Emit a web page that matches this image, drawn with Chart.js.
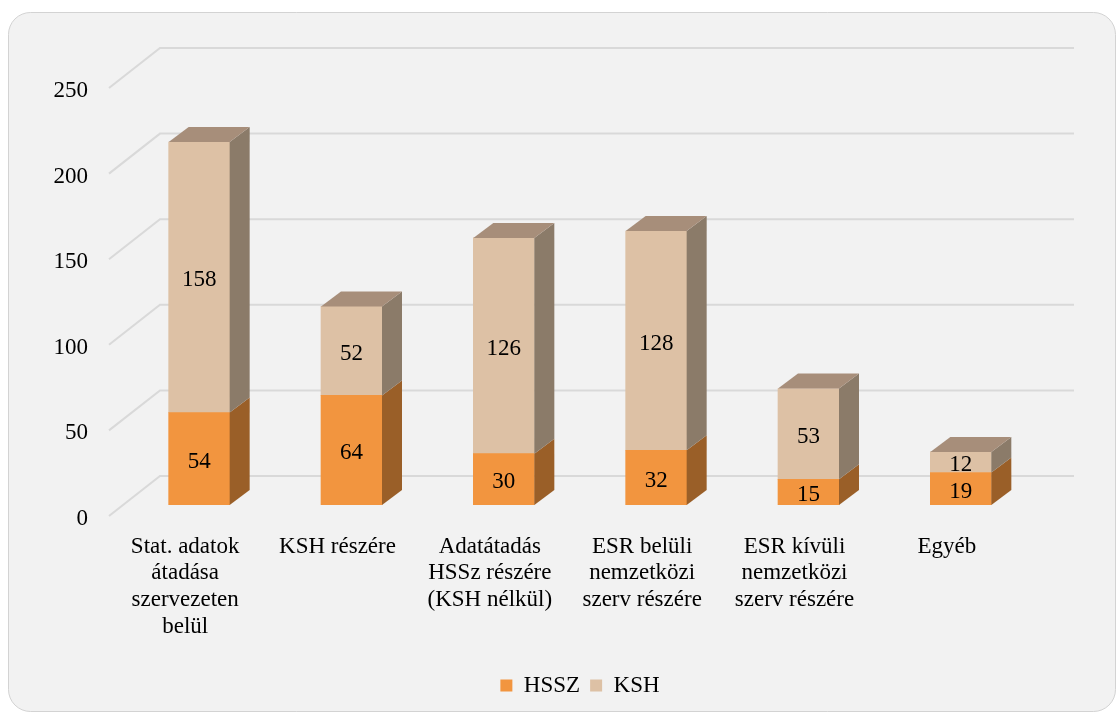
<!DOCTYPE html>
<html lang="hu">
<head>
<meta charset="UTF-8">
<title>Adatátadások</title>
<script src="https://cdn.jsdelivr.net/npm/chart.js"></script>
<style>
  body { margin: 0; background: #fff; }
</style>
</head>
<body>
<canvas id="chart" width="1118" height="713"></canvas>
<script>
const categories = [
  ['Stat. adatok', 'átadása', 'szervezeten', 'belül'],
  'KSH részére',
  ['Adatátadás', 'HSSz részére', '(KSH nélkül)'],
  ['ESR belüli', 'nemzetközi', 'szerv részére'],
  ['ESR kívüli', 'nemzetközi', 'szerv részére'],
  'Egyéb'
];
const hsszValues = [54, 64, 30, 32, 15, 19];
const kshValues = [158, 52, 126, 128, 53, 12];
const yTicks = [0, 50, 100, 150, 200, 250];

const font = { family: '"Liberation Serif", "DejaVu Serif", serif', size: 23, lineHeight: 1.17 };

// 3D depth of bars and of the floor/back wall (pixels)
const DX = 20, DY = 15;
const FRONT_DX = 14, FRONT_DY = 11;
const WALL_DX = 37, WALL_DY = 29;
const sideColors = ['#9A5F28', '#8B7B69'];
const topColors = ['#B8763A', '#A78E7A'];

const card = {
  id: 'card',
  beforeDraw(chart) {
    const c = chart.ctx;
    c.save();
    c.fillStyle = '#fff';
    c.fillRect(0, 0, chart.width, chart.height);
    c.beginPath();
    c.roundRect(8.5, 12.5, 1107, 699, 22);
    c.fillStyle = '#F2F2F2';
    c.fill();
    c.strokeStyle = '#D3D3D3';
    c.lineWidth = 1;
    c.stroke();
    c.restore();
  }
};

const grid3d = {
  id: 'grid3d',
  beforeDatasetsDraw(chart) {
    const { ctx, chartArea: a, scales: { y } } = chart;
    ctx.save();
    ctx.strokeStyle = '#D9D9D9';
    ctx.lineWidth = 2;
    yTicks.forEach(v => {
      const py = y.getPixelForValue(v);
      ctx.beginPath();
      ctx.moveTo(a.left - FRONT_DX, py + FRONT_DY);
      ctx.lineTo(a.left + WALL_DX, py - WALL_DY);
      ctx.lineTo(a.right + WALL_DX, py - WALL_DY);
      ctx.stroke();
    });
    ctx.restore();
  }
};

const bars3d = {
  id: 'bars3d',
  afterDatasetsDraw(chart) {
    const ctx = chart.ctx;
    const n = chart.data.datasets.length;
    ctx.save();
    chart.data.datasets.forEach((ds, di) => {
      chart.getDatasetMeta(di).data.forEach(bar => {
        const { x, y, base, width } = bar.getProps(['x', 'y', 'base', 'width'], true);
        const l = x - width / 2, r = x + width / 2;
        ctx.fillStyle = sideColors[di];
        ctx.beginPath();
        ctx.moveTo(r, y);
        ctx.lineTo(r + DX, y - DY);
        ctx.lineTo(r + DX, base - DY);
        ctx.lineTo(r, base);
        ctx.closePath();
        ctx.fill();
        if (di === n - 1) {
          ctx.fillStyle = topColors[di];
          ctx.beginPath();
          ctx.moveTo(l, y);
          ctx.lineTo(r, y);
          ctx.lineTo(r + DX, y - DY);
          ctx.lineTo(l + DX, y - DY);
          ctx.closePath();
          ctx.fill();
        }
      });
    });
    // value labels
    ctx.fillStyle = '#000';
    ctx.font = `${font.size}px ${font.family}`;
    ctx.textAlign = 'center';
    ctx.textBaseline = 'middle';
    chart.data.datasets.forEach((ds, di) => {
      chart.getDatasetMeta(di).data.forEach((bar, i) => {
        const { x, y, base } = bar.getProps(['x', 'y', 'base'], true);
        ctx.fillText(ds.data[i], x, (y + base) / 2 + 3);
      });
    });
    ctx.restore();
  }
};

new Chart(document.getElementById('chart'), {
  type: 'bar',
  data: {
    labels: categories,
    datasets: [
      { label: 'HSSZ', data: hsszValues, backgroundColor: '#F2953F' },
      { label: 'KSH', data: kshValues, backgroundColor: '#DDC1A5' }
    ]
  },
  options: {
    responsive: false,
    animation: false,
    layout: { padding: { top: 77, right: 81, left: 0, bottom: 6 } },
    datasets: { bar: { barThickness: 61 } },
    scales: {
      x: {
        stacked: true,
        grid: { display: false },
        border: { display: false },
        ticks: { color: '#000', font, labelOffset: -14, padding: 20, maxRotation: 0, autoSkip: false },
        afterFit: s => { s.height = 159; }
      },
      y: {
        stacked: true,
        min: 0,
        max: 250,
        grid: { display: false },
        border: { display: false },
        ticks: { stepSize: 50, color: '#000', font, labelOffset: 14, padding: 27 },
        afterFit: s => { s.width = 123; }
      }
    },
    plugins: {
      legend: {
        position: 'bottom',
        fullSize: false,
        labels: { boxWidth: 12, boxHeight: 12, color: '#000', font, padding: 10 }
      },
      tooltip: { enabled: false }
    }
  },
  plugins: [card, grid3d, bars3d]
});
</script>
</body>
</html>
